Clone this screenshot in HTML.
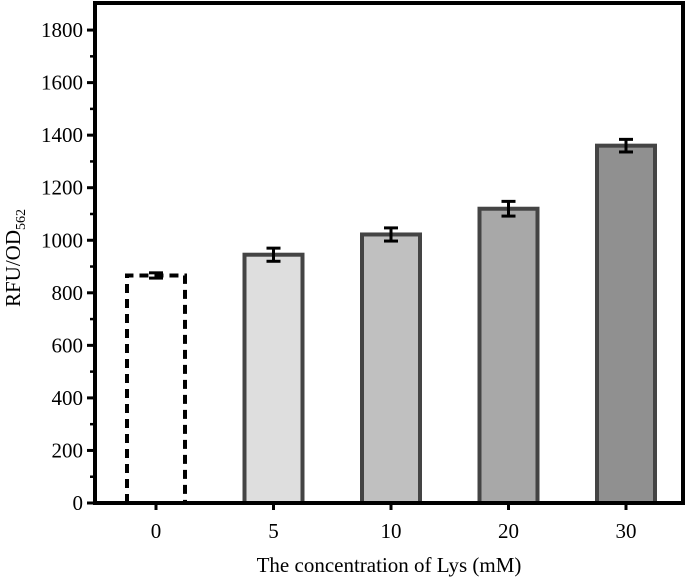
<!DOCTYPE html>
<html><head><meta charset="utf-8"><style>
body{margin:0;background:#fff;}
svg{display:block;font-family:"Liberation Serif",serif;}
</style></head><body>
<svg id="chart" width="685" height="577" viewBox="0 0 685 577"></svg>
<script>
const categories=["0","5","10","20","30"];
const values=[866,945,1022,1120,1360];
const errors=[10,25,25,28,24];
const fills=["none","#dedede","#c0c0c0","#a8a8a8","#909090"];
const yTicks=[0,200,400,600,800,1000,1200,1400,1600,1800];
const svg=document.getElementById('chart');
const NS='http://www.w3.org/2000/svg';
const L=95,R=683,T=3,B=503,YMAX=1903;
const y=v=>B-(v/YMAX)*(B-T);
const x0=156,step=117.5;
const x=i=>x0+i*step;
const BW=58;
function mk(tag,a,p){const e=document.createElementNS(NS,tag);for(const k in a)e.setAttribute(k,a[k]);(p||svg).appendChild(e);return e;}
const bars=mk('g',{});


categories.forEach((c,i)=>{
  const dashed=i===0;
  let r;
  if(dashed){
    const xl=x(i)-BW/2,xr=x(i)+BW/2,yt=y(values[i]);
    r=mk('path',{d:`M${xl},${B} L${xl},${yt} L${xr},${yt} L${xr},${B}`,fill:'none',stroke:'#000','stroke-width':4,'stroke-dasharray':'9,6'},bars);
  } else {
    r=mk('rect',{x:x(i)-BW/2,y:y(values[i]),width:BW,height:B-y(values[i]),fill:fills[i],stroke:'#444','stroke-width':4},bars);
  }
  
  
  const eg=mk('g',{stroke:'#000','stroke-width':3,fill:'none'},bars);
  
  
  const yt=y(values[i]+errors[i]),yb=y(values[i]-errors[i]);
  mk('line',{x1:x(i),x2:x(i),y1:yt,y2:yb},eg);
  mk('line',{x1:x(i)-7,x2:x(i)+7,y1:yt,y2:yt},eg);
  mk('line',{x1:x(i)-7,x2:x(i)+7,y1:yb,y2:yb},eg);
  const t=mk('text',{x:x(i),y:538,'font-size':21,'text-anchor':'middle'});
  t.textContent=c;
  
  
});
const frame=mk('rect',{x:L,y:T,width:R-L,height:B-T,fill:'none',stroke:'#000','stroke-width':4});


yTicks.forEach(v=>{
  mk('line',{x1:L-8,x2:L,y1:y(v),y2:y(v),stroke:'#000','stroke-width':3});
  if(v<1800)mk('line',{x1:L-5,x2:L,y1:y(v+100),y2:y(v+100),stroke:'#000','stroke-width':2.5});
  const t=mk('text',{x:L-12,y:y(v)+7,'font-size':21,'text-anchor':'end'});
  t.textContent=v;
  
  
});
categories.forEach((c,i)=>mk('line',{x1:x(i),x2:x(i),y1:B,y2:B+7,stroke:'#000','stroke-width':3}));
const xt=mk('text',{x:389,y:572,'font-size':21,'text-anchor':'middle'});
xt.textContent='The concentration of Lys (mM)';


const yt=mk('text',{x:0,y:0,'font-size':21,'text-anchor':'middle',transform:'translate(20,258) rotate(-90)'});
yt.innerHTML='RFU/OD<tspan font-size="14" dy="5">562</tspan>';


</script>
</body></html>
